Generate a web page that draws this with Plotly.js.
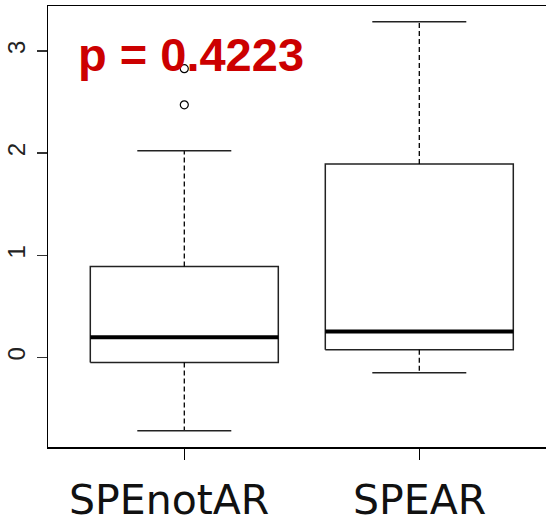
<!DOCTYPE html>
<html>
<head>
<meta charset="utf-8">
<script src="https://cdn.plot.ly/plotly-3.0.1.min.js"></script>
<style>html,body{margin:0;padding:0;background:#fff;overflow:hidden}</style>
</head>
<body>
<div id="chart" style="width:546px;height:530px"></div>
<script>
// Data
var categories = ["SPEnotAR", "SPEAR"];
var lowerWhisker = [-0.717, -0.150];
var q1 = [-0.049, 0.076];
var median = [0.199, 0.255];
var q3 = [0.891, 1.894];
var upperWhisker = [2.024, 3.285];
var outliers = [[2.827, 2.473], []];
var pText = "p = 0.4223";
var yTicks = [0, 1, 2, 3];

var traces = [];
var boxHalf = 0.4, capHalf = 0.2;
var lineCol = "#222";
for (var i = 0; i < categories.length; i++) {
  var p = i + 1;
  traces.push({type: "scatter", mode: "lines", hoverinfo: "skip", showlegend: false,
    x: [p - boxHalf, p + boxHalf, p + boxHalf, p - boxHalf, p - boxHalf],
    y: [q1[i], q1[i], q3[i], q3[i], q1[i]],
    line: {color: lineCol, width: 1.5}});
  traces.push({type: "scatter", mode: "lines", hoverinfo: "skip", showlegend: false,
    x: [p - boxHalf, p + boxHalf], y: [median[i], median[i]],
    line: {color: "#000", width: 4}});
  traces.push({type: "scatter", mode: "lines", hoverinfo: "skip", showlegend: false,
    x: [p, p], y: [q3[i], upperWhisker[i]],
    line: {color: "#000", width: 1.3, dash: "5px,3px"}});
  traces.push({type: "scatter", mode: "lines", hoverinfo: "skip", showlegend: false,
    x: [p, p], y: [q1[i], lowerWhisker[i]],
    line: {color: "#000", width: 1.3, dash: "5px,3px"}});
  traces.push({type: "scatter", mode: "lines", hoverinfo: "skip", showlegend: false,
    x: [p - capHalf, p + capHalf], y: [upperWhisker[i], upperWhisker[i]],
    line: {color: lineCol, width: 1.5}});
  traces.push({type: "scatter", mode: "lines", hoverinfo: "skip", showlegend: false,
    x: [p - capHalf, p + capHalf], y: [lowerWhisker[i], lowerWhisker[i]],
    line: {color: lineCol, width: 1.5}});
  if (outliers[i].length) {
    traces.push({type: "scatter", mode: "markers", showlegend: false,
      x: outliers[i].map(function(){return p;}), y: outliers[i],
      marker: {symbol: "circle-open", size: 8, color: "#000", line: {width: 1.2, color: "#000"}}});
  }
}

var annotations = [{
  text: "<b>" + pText + "</b>", xref: "x", yref: "y", x: 1.028, y: 2.97,
  xanchor: "center", yanchor: "middle", showarrow: false,
  font: {family: "Liberation Sans, Arial, sans-serif", size: 47, color: "#cc0000"}
}];
var labelShift = [-15, 0];
for (var j = 0; j < categories.length; j++) {
  annotations.push({text: categories[j], xref: "x", yref: "paper", x: j + 1, y: -0.12,
    xshift: labelShift[j], xanchor: "center", yanchor: "middle", showarrow: false,
    font: {family: "DejaVu Sans, sans-serif", size: 41, color: "#111"}});
}

var layout = {
  width: 546, height: 530,
  margin: {l: 48, r: 0, t: 6, b: 83},
  paper_bgcolor: "#fff", plot_bgcolor: "#fff",
  showlegend: false,
  xaxis: {range: [0.42, 0.42 + 498 / 235], tickvals: [1, 2], ticktext: ["", ""],
    showgrid: false, zeroline: false, showline: true, mirror: true,
    linecolor: "#000", linewidth: 1.5, ticks: "outside", ticklen: 11, tickwidth: 1.3, tickcolor: "#000"},
  yaxis: {range: [-0.876, 3.44], tickvals: yTicks, ticktext: yTicks.map(String),
    tickangle: -90, automargin: false, showgrid: false, zeroline: false, showline: true, mirror: false,
    linecolor: "#000", linewidth: 1.5, ticks: "outside", ticklen: 10, tickwidth: 1.3, tickcolor: "#333",
    ticklabelstandoff: 2,
    tickfont: {family: "Liberation Sans, Arial, sans-serif", size: 24, color: "#222"}},
  annotations: annotations
};

Plotly.newPlot("chart", traces, layout, {staticPlot: true, displayModeBar: false});
</script>
</body>
</html>
